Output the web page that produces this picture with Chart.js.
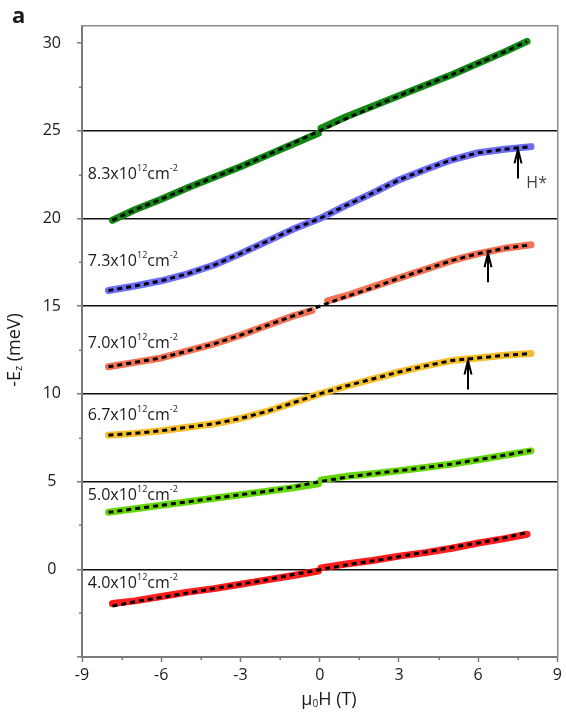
<!DOCTYPE html>
<html>
<head>
<meta charset="utf-8">
<script src="https://cdn.jsdelivr.net/npm/chart.js@4/dist/chart.umd.min.js"></script>
<style>
  html, body { margin: 0; padding: 0; background: #ffffff; }
  #wrap { width: 566px; height: 714px; }
</style>
</head>
<body>
<div id="wrap"><canvas id="chart" width="566" height="714"></canvas></div>
<script>
// ---- field values (T) ----
const fieldT          = [-8, -7, -6, -5, -4, -3, -2, -1, 0, 1, 2, 3, 4, 5, 6, 7, 8];
const fieldSplit      = [-8, -7, -6, -5, -4, -3, -2, -1, -0.05, 0, 0.05, 1, 2, 3, 4, 5, 6, 7, 8];
const fieldSplitWide  = [-8, -7, -6, -5, -4, -3, -2, -1, -0.3, 0, 0.3, 1, 2, 3, 4, 5, 6, 7, 8];
const fieldShort      = [-7.85, -7, -6, -5, -4, -3, -2, -1, 0, 1, 2, 3, 4, 5, 6, 7, 7.85];
const fieldShortSplit = [-7.85, -7, -6, -5, -4, -3, -2, -1, -0.05, 0, 0.05, 1, 2, 3, 4, 5, 6, 7, 7.85];

// ---- -Ez (meV), measured ----
const meas83 = [19.9, 20.5, 21.1, 21.75, 22.35, 22.95, 23.6, 24.25, 24.86, null, 25.15, 25.8, 26.4, 27.0, 27.6, 28.2, 28.85, 29.5, 30.1];
const meas73 = [15.9, 16.15, 16.45, 16.85, 17.35, 18.0, 18.7, 19.4, 20.0, 20.75, 21.45, 22.2, 22.8, 23.35, 23.75, 23.95, 24.1];
const meas70 = [11.55, 11.8, 12.05, 12.45, 12.85, 13.35, 13.9, 14.45, 14.75, null, 15.3, 15.6, 16.1, 16.6, 17.1, 17.6, 18.0, 18.3, 18.5];
const meas67 = [7.65, 7.75, 7.9, 8.1, 8.3, 8.6, 9.0, 9.5, 10.0, 10.45, 10.85, 11.25, 11.6, 11.9, 12.05, 12.2, 12.3];
const meas50 = [3.25, 3.45, 3.65, 3.85, 4.05, 4.25, 4.45, 4.65, 4.88, null, 5.1, 5.3, 5.45, 5.62, 5.8, 6.0, 6.25, 6.5, 6.75];
const meas40 = [-1.95, -1.8, -1.55, -1.3, -1.1, -0.85, -0.6, -0.35, -0.1, null, 0.08, 0.3, 0.5, 0.75, 0.95, 1.2, 1.5, 1.75, 2.0];

// ---- -Ez (meV), model fits ----
const fit83 = [19.9, 20.5, 21.1, 21.75, 22.35, 22.95, 23.6, 24.3, 25.0, 25.7, 26.35, 27.0, 27.6, 28.2, 28.85, 29.5, 30.1];
const fit73 = [15.9, 16.15, 16.45, 16.85, 17.35, 18.0, 18.7, 19.4, 20.0, 20.75, 21.45, 22.2, 22.8, 23.35, 23.75, 23.95, 24.1];
const fit70 = [11.55, 11.8, 12.05, 12.45, 12.85, 13.35, 13.9, 14.45, 15.0, 15.55, 16.05, 16.6, 17.1, 17.6, 18.0, 18.3, 18.5];
const fit67 = [7.65, 7.75, 7.9, 8.1, 8.3, 8.6, 9.0, 9.5, 10.0, 10.45, 10.85, 11.25, 11.6, 11.9, 12.05, 12.2, 12.3];
const fit50 = [3.25, 3.45, 3.65, 3.85, 4.05, 4.25, 4.45, 4.7, 5.0, 5.25, 5.45, 5.62, 5.8, 6.0, 6.25, 6.5, 6.78];
const fit40 = [-2.1, -1.85, -1.6, -1.35, -1.1, -0.85, -0.6, -0.3, -0.02, 0.25, 0.48, 0.72, 0.98, 1.25, 1.5, 1.8, 2.1];

// ---- carrier densities (x10^12 cm^-2) ----
const densities = ['8.3', '7.3', '7.0', '6.7', '5.0', '4.0'];

// ---- saturation fields H* (T) for 7.3, 7.0, 6.7 ----
const hStarField = [7.52, 6.36, 5.61];

// ---- axis ticks ----
const xTicks = [-9, -6, -3, 0, 3, 6, 9];
const xMinorTicks = [-7.5, -4.5, -1.5, 1.5, 4.5, 7.5];
const yTicks = [-5, 0, 5, 10, 15, 20, 25, 30];
const yMinorTicks = [-2.5, 2.5, 7.5, 12.5, 17.5, 22.5, 27.5];

const FONT = '"Open Sans", "Liberation Sans", sans-serif';
const AXIS_GRAY = '#7a7a7a';
const TEXT = '#1a1a1a';

const zip = (xs, ys) => xs.map((x, i) => ({ x, y: ys[i] }));

const series = [
  { meas: zip(fieldShortSplit, meas83), fit: zip(fieldShort, fit83), color: '#118811' },
  { meas: zip(fieldT, meas73),          fit: zip(fieldT, fit73),     color: '#6c6cf4' },
  { meas: zip(fieldSplitWide, meas70),  fit: zip(fieldT, fit70),     color: '#f27252' },
  { meas: zip(fieldT, meas67),          fit: zip(fieldT, fit67),     color: '#f7bf2c' },
  { meas: zip(fieldSplit, meas50),      fit: zip(fieldT, fit50),     color: '#66d80a' },
  { meas: zip(fieldShortSplit, meas40), fit: zip(fieldShort, fit40), color: '#ff1c1c' }
];

const datasets = [];
series.forEach((s, i) => {
  datasets.push({
    label: densities[i] + ' fit',
    data: s.fit,
    borderColor: '#000000',
    borderWidth: 3,
    borderDash: [5, 4],
    pointRadius: 0,
    tension: 0,
    order: 1
  });
  datasets.push({
    label: densities[i],
    data: s.meas,
    borderColor: s.color,
    borderWidth: 7,
    borderCapStyle: 'round',
    borderJoinStyle: 'round',
    pointRadius: 0,
    tension: 0,
    spanGaps: false,
    order: 2
  });
});

// value of a fit curve at field h (linear between samples)
function curveAt(pts, h) {
  for (let i = 0; i < pts.length - 1; i++) {
    const a = pts[i], b = pts[i + 1];
    if (h >= a.x && h <= b.x) return a.y + (b.y - a.y) * (h - a.x) / (b.x - a.x);
  }
  return pts[pts.length - 1].y;
}

// density labels: anchor (field, energy) of the label's vertical centre
const labelAnchors = [
  [-8.78, 22.5], [-8.78, 17.56], [-8.78, 12.85], [-8.78, 8.8], [-8.78, 4.2], [-8.78, -0.78]
];

// draws pieces of text in a row, small pieces shifted by dy (sub/superscripts)
function drawRuns(ctx, parts, x0, y0) {
  let px = x0;
  parts.forEach(([t, size, dy]) => {
    ctx.font = size + 'px ' + FONT;
    ctx.fillText(t, px, y0 + dy);
    px += ctx.measureText(t).width;
  });
}
function runsWidth(ctx, parts) {
  let w = 0;
  parts.forEach(([t, size]) => { ctx.font = size + 'px ' + FONT; w += ctx.measureText(t).width; });
  return w;
}

const decor = {
  id: 'decor',
  afterDraw(chart) {
    const { ctx, scales } = chart;
    const x = scales.x, y = scales.y;
    ctx.save();

    // minor tick marks
    ctx.strokeStyle = AXIS_GRAY;
    ctx.lineWidth = 1.5;
    ctx.beginPath();
    yMinorTicks.forEach(v => {
      const py = Math.round(y.getPixelForValue(v)) + 0.25;
      ctx.moveTo(x.left - 3, py); ctx.lineTo(x.left, py);
    });
    xMinorTicks.forEach(v => {
      const px = Math.round(x.getPixelForValue(v)) + 0.25;
      ctx.moveTo(px, y.bottom); ctx.lineTo(px, y.bottom + 3);
    });
    ctx.stroke();

    // density labels
    ctx.fillStyle = TEXT;
    ctx.textBaseline = 'middle';
    ctx.textAlign = 'left';
    densities.forEach((d, i) => {
      const px = x.getPixelForValue(labelAnchors[i][0]);
      const py = y.getPixelForValue(labelAnchors[i][1]);
      drawRuns(ctx, [[d + 'x10', 16, 0], ['12', 9, -6], ['cm', 16, 0], ['-2', 9, -6]], px, py);
    });

    // H* arrows
    ctx.strokeStyle = '#000000';
    ctx.lineWidth = 2;
    hStarField.forEach((h, i) => {
      const fit = series[i + 1].fit;
      const px = Math.round(x.getPixelForValue(h));
      const tip = y.getPixelForValue(curveAt(fit, h)) + 1.5;
      ctx.beginPath();
      ctx.moveTo(px, tip + 29); ctx.lineTo(px, tip);
      ctx.moveTo(px - 3.5, tip + 14); ctx.lineTo(px, tip); ctx.lineTo(px + 3.5, tip + 14);
      ctx.stroke();
    });
    ctx.fillStyle = '#404040';
    ctx.font = '16px ' + FONT;
    ctx.fillText('H*', x.getPixelForValue(hStarField[0]) + 8, y.getPixelForValue(curveAt(series[1].fit, hStarField[0])) + 36);

    // panel letter
    ctx.fillStyle = TEXT;
    ctx.textBaseline = 'alphabetic';
    ctx.font = 'bold 22px ' + FONT;
    ctx.fillText('a', 12, 23);

    // x axis title: μ0H (T)
    ctx.textBaseline = 'middle';
    const xParts = [['μ', 18, 0], ['0', 10, 4], ['H (T)', 18, 0]];
    drawRuns(ctx, xParts, 329 - runsWidth(ctx, xParts) / 2, 700);

    // y axis title: -Ez (meV)
    ctx.save();
    ctx.translate(15, 350);
    ctx.rotate(-Math.PI / 2);
    const yParts = [['-E', 18, 0], ['z', 11, 4], [' (meV)', 18, 0]];
    drawRuns(ctx, yParts, -runsWidth(ctx, yParts) / 2, 0);
    ctx.restore();

    ctx.restore();
  }
};

new Chart(document.getElementById('chart'), {
  type: 'line',
  data: { datasets },
  plugins: [decor],
  options: {
    responsive: false,
    animation: false,
    events: [],
    layout: { padding: { left: 0, right: 7, top: 23, bottom: 0 } },
    plugins: { legend: { display: false }, tooltip: { enabled: false } },
    scales: {
      x: {
        type: 'linear', position: 'bottom', min: -9, max: 9,
        afterBuildTicks: s => { s.ticks = xTicks.map(v => ({ value: v })); },
        afterFit: s => { s.height = 57; },
        grid: { drawOnChartArea: false, drawTicks: true, tickLength: 5, tickColor: AXIS_GRAY, tickWidth: 1.5 },
        border: { display: true, color: AXIS_GRAY, width: 2 },
        ticks: { font: { family: FONT, size: 16 }, color: TEXT, padding: 4, maxRotation: 0, autoSkip: false }
      },
      y: {
        type: 'linear', position: 'left', min: -5, max: 31,
        afterBuildTicks: s => { s.ticks = yTicks.map(v => ({ value: v })); },
        afterFit: s => { s.width = 82; },
        grid: {
          color: c => (c.tick && c.tick.value >= 0 && c.tick.value <= 25) ? '#111111' : 'rgba(0,0,0,0)',
          lineWidth: 1.5, tickLength: 5, tickColor: AXIS_GRAY, tickWidth: 1.5
        },
        border: { display: true, color: AXIS_GRAY, width: 2 },
        ticks: {
          callback: v => (v < 0 ? '' : String(v)),
          crossAlign: 'center', padding: 16,
          font: { family: FONT, size: 16 }, color: TEXT
        }
      },
      xTop: {
        type: 'linear', position: 'top', min: -9, max: 9,
        afterFit: s => { s.height = 0; },
        ticks: { display: false },
        grid: { display: false, drawTicks: false },
        border: { display: true, color: '#8a8a8a', width: 1.5 }
      },
      yRight: {
        type: 'linear', position: 'right', min: -5, max: 31,
        afterFit: s => { s.width = 0; },
        ticks: { display: false },
        grid: { display: false, drawTicks: false },
        border: { display: true, color: '#8a8a8a', width: 1.5 }
      }
    }
  }
});
</script>
</body>
</html>
